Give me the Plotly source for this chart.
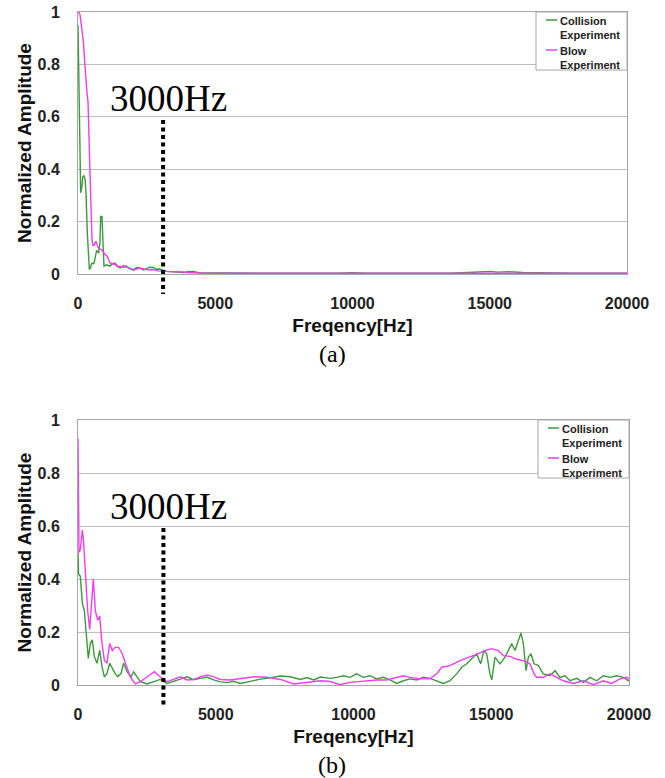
import plotly.graph_objects as go

W, H = 665, 778

# ---------------- data ----------------
series_names = ["Collision<br>Experiment", "Blow<br>Experiment"]
panel_labels = ["(a)", "(b)"]
cutoff_label = "3000Hz"
cutoff_freq = 3100
x_ticks = [0, 5000, 10000, 15000, 20000]
y_ticks = [0, 0.2, 0.4, 0.6, 0.8, 1]

# Panel (a) - Collision experiment
freq_a_col = [0, 20, 49, 97, 140, 170, 218, 260, 291, 340, 413, 460, 498, 583, 640, 680,
              753, 800, 825, 874, 910, 947, 1044, 1165, 1250, 1348, 1440, 1530, 1650, 1772,
              1900, 2015, 2140, 2258, 2380, 2500, 2620, 2744, 2860, 2987, 3100, 3230, 3500,
              3836, 4000, 4200, 4400, 4800, 5500, 6500, 7500, 8500, 9500, 10000, 10500,
              11500, 12500, 13500, 14200, 14700, 15000, 15300, 15700, 16200, 17000, 18000,
              19000, 20000]
amp_a_col = [0.95, 0.80, 0.60, 0.31, 0.33, 0.37, 0.375, 0.36, 0.31, 0.156, 0.017, 0.025,
             0.04, 0.04, 0.07, 0.09, 0.08, 0.12, 0.22, 0.22, 0.12, 0.03, 0.035, 0.03, 0.038,
             0.042, 0.03, 0.023, 0.032, 0.03, 0.02, 0.017, 0.025, 0.023, 0.015, 0.02, 0.026,
             0.025, 0.018, 0.019, 0.014, 0.01, 0.008, 0.006, 0.009, 0.01, 0.005, 0.004, 0.004,
             0.003, 0.004, 0.003, 0.003, 0.005, 0.003, 0.003, 0.004, 0.003, 0.006, 0.008,
             0.01, 0.007, 0.009, 0.006, 0.004, 0.003, 0.003, 0.003]

# Panel (a) - Blow experiment
freq_a_blow = [0, 30, 73, 130, 194, 250, 291, 330, 364, 400, 437, 475, 510, 545, 583, 620,
               655, 700, 740, 800, 862, 920, 983, 1068, 1120, 1165, 1250, 1348, 1440, 1530,
               1650, 1772, 1900, 2015, 2200, 2380, 2560, 2744, 2900, 3108, 3300, 3472, 3700,
               3958, 4443, 5000, 6000, 8000, 10000, 12000, 14000, 16000, 18000, 20000]
amp_a_blow = [1.0, 1.0, 0.99, 0.95, 0.89, 0.80, 0.73, 0.69, 0.66, 0.55, 0.41, 0.25, 0.13,
              0.11, 0.11, 0.12, 0.125, 0.11, 0.10, 0.095, 0.093, 0.085, 0.074, 0.067, 0.05,
              0.042, 0.04, 0.036, 0.028, 0.03, 0.025, 0.027, 0.02, 0.014, 0.022, 0.02, 0.015,
              0.017, 0.012, 0.01, 0.011, 0.008, 0.009, 0.006, 0.004, 0.003, 0.003, 0.003,
              0.002, 0.003, 0.003, 0.002, 0.003, 0.003]

# Panel (b) - Collision experiment
freq_b_col = [0, 20, 85, 157, 230, 303, 375, 448, 520, 593, 690, 787, 871, 956, 1053, 1150,
              1246, 1343, 1440, 1561, 1658, 1779, 1924, 2021, 2142, 2263, 2505, 2747, 2989,
              3230, 3473, 3715, 3957, 4199, 4441, 4683, 4925, 5167, 5409, 5650, 5893, 6135,
              6377, 6619, 6861, 7103, 7345, 7708, 8071, 8313, 8555, 8797, 9160, 9389, 9631,
              9873, 10115, 10357, 10599, 10841, 11083, 11325, 11567, 11809, 12051, 12293,
              12535, 12777, 13019, 13261, 13503, 13745, 13927, 14108, 14290, 14471, 14616,
              14737, 14834, 14955, 15020, 15137, 15318, 15500, 15742, 15863, 15984, 16080,
              16165, 16262, 16347, 16443, 16552, 16710, 16891, 17133, 17315, 17496, 17678,
              17859, 18101, 18343, 18585, 18827, 19069, 19311, 19553, 19795, 19977, 20000]
amp_b_col = [0.5, 0.42, 0.41, 0.31, 0.28, 0.195, 0.10, 0.157, 0.17, 0.107, 0.082, 0.132,
             0.069, 0.031, 0.044, 0.082, 0.063, 0.044, 0.031, 0.044, 0.082, 0.05, 0.031, 0.05,
             0.031, 0.013, 0.004, 0.013, 0.021, 0.006, 0.013, 0.022, 0.031, 0.02, 0.025, 0.03,
             0.019, 0.012, 0.009, 0.014, 0.006, 0.012, 0.016, 0.022, 0.025, 0.03, 0.034, 0.031,
             0.021, 0.028, 0.019, 0.03, 0.025, 0.029, 0.035, 0.029, 0.042, 0.029, 0.035, 0.023,
             0.029, 0.019, 0.006, 0.016, 0.023, 0.019, 0.029, 0.025, 0.016, 0.006, 0.016,
             0.042, 0.067, 0.08, 0.099, 0.118, 0.08, 0.13, 0.118, 0.04, 0.02, 0.105, 0.08,
             0.105, 0.156, 0.13, 0.168, 0.196, 0.156, 0.054, 0.105, 0.118, 0.08, 0.073, 0.042,
             0.035, 0.054, 0.029, 0.035, 0.016, 0.025, 0.01, 0.029, 0.016, 0.035, 0.029, 0.035,
             0.029, 0.016, 0.02]

# Panel (b) - Blow experiment
freq_b_blow = [0, 15, 36, 85, 120, 157, 206, 278, 351, 424, 496, 557, 630, 714, 787, 871,
               956, 1053, 1150, 1246, 1343, 1476, 1597, 1754, 1900, 2081, 2263, 2505, 2771,
               2989, 3230, 3473, 3715, 3957, 4199, 4441, 4683, 4925, 5167, 5530, 5893, 6377,
               6861, 7345, 7830, 8313, 8797, 9160, 9510, 9873, 10357, 10841, 11204, 11567,
               11809, 12051, 12414, 12777, 13019, 13200, 13503, 13866, 14229, 14532, 14774,
               15016, 15258, 15439, 15681, 15923, 16165, 16407, 16552, 16649, 16891, 17133,
               17375, 17617, 17980, 18343, 18706, 19069, 19371, 19674, 19916, 20000]
amp_b_blow = [0.93, 0.6, 0.5, 0.51, 0.56, 0.585, 0.535, 0.41, 0.28, 0.21, 0.33, 0.40, 0.28,
              0.245, 0.26, 0.157, 0.094, 0.082, 0.157, 0.13, 0.142, 0.142, 0.12, 0.07, 0.03,
              0.004, 0.013, 0.03, 0.05, 0.03, 0.013, 0.021, 0.031, 0.019, 0.021, 0.031, 0.038,
              0.031, 0.021, 0.019, 0.025, 0.031, 0.029, 0.021, 0.004, 0.009, 0.016, 0.013,
              0.001, 0.01, 0.014, 0.019, 0.019, 0.029, 0.035, 0.029, 0.023, 0.023, 0.042,
              0.067, 0.073, 0.092, 0.105, 0.118, 0.13, 0.137, 0.13, 0.111, 0.108, 0.097,
              0.092, 0.08, 0.042, 0.029, 0.029, 0.042, 0.029, 0.016, 0.006, 0.016, 0.001,
              0.016, 0.006, 0.023, 0.029, 0.023]

# ---------------- styling ----------------
GREEN = "#3c9a3c"
MAGENTA = "#f23cf2"
GRID = "#bdbdbd"
BORDER = "#a6a6a6"
SANS = "Liberation Sans"
SERIF = "Liberation Serif"


def px(x):
    """pixel x -> paper fraction"""
    return x / W


def py(y):
    """pixel y (from top) -> paper fraction"""
    return 1 - y / H


fig = go.Figure()

panels = [
    dict(xa="x", ya="y", data=[(freq_a_col, amp_a_col), (freq_a_blow, amp_a_blow)],
         left=78, right=627, top=12, bottom=274),
    dict(xa="x2", ya="y2", data=[(freq_b_col, amp_b_col), (freq_b_blow, amp_b_blow)],
         left=78, right=629, top=420, bottom=685),
]
colors = [GREEN, MAGENTA]

layout_axes = {}
shapes = []
annotations = []
for i, p in enumerate(panels):
    for (fx, fy), col, name in zip(p["data"], colors, series_names):
        fig.add_trace(go.Scatter(x=fx, y=fy, mode="lines", name=name.replace("<br>", " "),
                                 line=dict(color=col, width=1.4), xaxis=p["xa"], yaxis=p["ya"],
                                 showlegend=False))
    sfx = "" if i == 0 else "2"
    layout_axes["xaxis" + sfx] = dict(
        domain=[px(p["left"]), px(p["right"])], anchor="y" + sfx, range=[0, 20000],
        tickvals=x_ticks, tickformat="d", showgrid=False, zeroline=False,
        showline=True, linecolor=BORDER, linewidth=1, mirror=True, ticks="",
        tickfont=dict(family=SANS, size=16, weight="bold", color="#222"),
        ticklabelstandoff=15, ticklabeloverflow="allow",
        title=dict(text="Freqency[Hz]", standoff=7,
                   font=dict(family=SANS, size=19, weight="bold", color="#111")),
        automargin=False)
    layout_axes["yaxis" + sfx] = dict(
        domain=[py(p["bottom"]), py(p["top"])], anchor="x" + sfx, range=[0, 1],
        tickvals=y_ticks, showgrid=True, gridcolor=GRID, gridwidth=1, zeroline=False,
        showline=True, linecolor=BORDER, linewidth=1, mirror=True, ticks="",
        tickfont=dict(family=SANS, size=16, weight="bold", color="#222"),
        ticklabelstandoff=14, ticklabeloverflow="allow",
        title=dict(text="Normalized Amplitude", standoff=0,
                   font=dict(family=SANS, size=19, weight="bold", color="#111")),
        automargin=False)

    # dotted 3000 Hz marker
    shapes.append(dict(type="line", xref=p["xa"], yref="paper", x0=cutoff_freq, x1=cutoff_freq,
                       y0=py(p["top"] + 108), y1=py(p["bottom"] + 20),
                       line=dict(color="black", width=4, dash="4px,3.5px")))
    annotations.append(dict(xref="paper", yref="paper", x=px(168), y=py(p["top"] + 86),
                            text=cutoff_label, showarrow=False, xanchor="center", yanchor="middle",
                            font=dict(family=SERIF, size=37, color="black")))
    # caption
    annotations.append(dict(xref="paper", yref="paper", x=px(332), y=py(p["bottom"] + 80),
                            text=panel_labels[i], showarrow=False, xanchor="center",
                            yanchor="middle", borderpad=0,
                            font=dict(family=SERIF, size=24, color="black")))

    # legend (drawn box)
    lx0, lx1 = p["right"] - 91, p["right"]
    ly0, ly1 = p["top"], p["top"] + 58
    shapes.append(dict(type="rect", xref="paper", yref="paper", x0=px(lx0), x1=px(lx1),
                       y0=py(ly0), y1=py(ly1), line=dict(color=BORDER, width=1),
                       fillcolor="white", layer="above"))
    for k, (col, name) in enumerate(zip(colors, series_names)):
        yc = p["top"] + 8 + 30 * k
        shapes.append(dict(type="line", xref="paper", yref="paper", x0=px(lx0 + 10),
                           x1=px(lx0 + 21), y0=py(yc), y1=py(yc),
                           line=dict(color=col, width=1.5), layer="above"))
        annotations.append(dict(xref="paper", yref="paper", x=px(lx0 + 22), y=py(yc - 7),
                                text=name, showarrow=False, xanchor="left", yanchor="top",
                                align="left",
                                font=dict(family=SANS, size=11, weight="bold", color="#222")))

fig.update_layout(
    width=W, height=H, margin=dict(l=0, r=0, t=0, b=0),
    paper_bgcolor="white", plot_bgcolor="white",
    shapes=shapes, annotations=annotations, showlegend=False,
    **layout_axes)

# remove the browser's default 8px body margin so the figure fills the window
fig.write_html("out.html", config={"displayModeBar": False},
               post_script="document.body.style.margin='0';")
